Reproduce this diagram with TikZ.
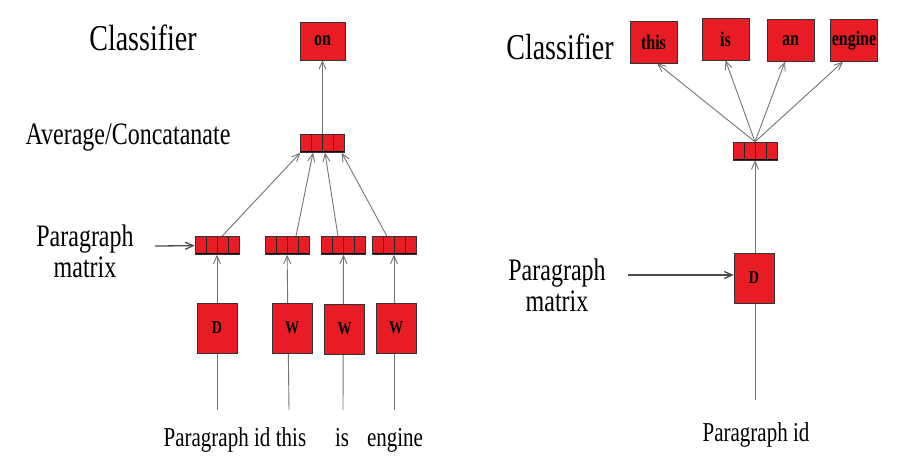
\documentclass[tikz,border=0pt]{standalone}
\usepackage{fontspec}
\setmainfont{Liberation Serif}
\usetikzlibrary{arrows.meta}
\pgfdeclarelayer{bg}
\pgfsetlayers{bg,main}
\definecolor{boxred}{RGB}{232,28,36}
\newcommand{\tallt}[1]{\scalebox{1}[1.3]{#1}}

\begin{document}
\begin{tikzpicture}
  [x=1pt,y=-1pt, every node/.style={inner sep=0pt}, >={Straight Barb[length=8pt,width=7pt]},
   wordbox/.style={rectangle,draw=black!80,fill=boxred,minimum width=40pt,minimum height=50pt,font=\bfseries\fontsize{14}{14}\selectfont},
   outbox/.style={rectangle,draw=black!80,fill=boxred,minimum width=47pt,minimum height=42pt,font=\bfseries\fontsize{16}{16}\selectfont},
   vecbox/.style={rectangle,draw=black!80,fill=boxred,minimum width=44pt,minimum height=18pt,
     path picture={
       \foreach \k in {11pt,22pt,33pt}
         \draw[black!85,line width=0.8pt] ([xshift=\k]path picture bounding box.south west) -- ([xshift=\k]path picture bounding box.north west);
       \draw[black,line width=3pt] (path picture bounding box.south west) -- (path picture bounding box.south east);
     }},
   txtbig/.style={font=\fontsize{28}{34}\selectfont},
   txtmid/.style={font=\fontsize{24}{31}\selectfont},
   txtsmall/.style={font=\fontsize{21}{25}\selectfont},
   flow/.style={->,draw=black!55,line width=0.9pt},
   feed/.style={->,draw=black!70,line width=1.3pt}]

  \useasboundingbox (0,0) rectangle (899,466);

  % left: paragraph vector, distributed memory
  \node[txtbig,anchor=base] (clsL) at (143,50) {\tallt{Classifier}};
  \node[outbox,minimum width=45pt,minimum height=38pt] (on) at (322.5,41) {\tallt{on}};
  \node[txtmid,anchor=base] (avglbl) at (128,144) {\tallt{Average/Concatanate}};
  \node[vecbox] (avg) at (322.5,143.5) {};
  \node[txtmid,align=center] (pmL) at (85,251) {\tallt{Paragraph}\\\tallt{matrix}};

  \node[vecbox] (pv1) at (217,245.5) {};
  \node[vecbox] (pv2) at (287,245.5) {};
  \node[vecbox] (pv3) at (343.5,245.5) {};
  \node[vecbox] (pv4) at (394,245.5) {};

  \node[wordbox] (d1) at (217,328) {\tallt{D}};
  \node[wordbox] (w1) at (292,328) {\tallt{W}};
  \node[wordbox] (w2) at (344.5,329) {\tallt{W}};
  \node[wordbox] (w3) at (396,328) {\tallt{W}};

  \node[txtsmall,anchor=base] (id1) at (217,446) {\tallt{Paragraph id}};
  \node[txtsmall,anchor=base] (t1) at (291,446) {\tallt{this}};
  \node[txtsmall,anchor=base] (t2) at (342,446) {\tallt{is}};
  \node[txtsmall,anchor=base] (t3) at (395,446) {\tallt{engine}};

  \coordinate (s1) at (217,410);
  \coordinate (s2) at (289,410);
  \coordinate (s3) at (343,410);
  \coordinate (s4) at (394,410);
  \coordinate (pa1) at (155,246);

  % right: paragraph vector, distributed bag of words
  \node[txtbig,anchor=base] (clsR) at (560,59) {\tallt{Classifier}};
  \node[outbox] (o1) at (653.5,42) {\tallt{this}};
  \node[outbox] (o2) at (725.5,39) {\tallt{is}};
  \node[outbox] (o3) at (790.5,40.5) {\tallt{an}};
  \node[outbox] (o4) at (854,40.5) {\tallt{engine}};
  \node[vecbox] (rv) at (755,151) {};
  \node[wordbox] (rd) at (754,278) {\tallt{D}};
  \node[txtmid,align=center] (pmR) at (557,285) {\tallt{Paragraph}\\\tallt{matrix}};
  \node[txtsmall,anchor=base] (idR) at (756,441) {\tallt{Paragraph id}};

  \coordinate (s5) at (755,400);
  \coordinate (pa2) at (628,275);

  \begin{pgfonlayer}{bg}
    \draw[flow] (s1) -- (pv1);
    \draw[flow] (s2) -- (pv2);
    \draw[flow] (s3) -- (pv3);
    \draw[flow] (s4) -- (pv4);
    \draw[flow] ([xshift=5pt]pv1.north) -- (avg.south west);
    \draw[flow] ([xshift=9pt]pv2.north) -- ([xshift=-9.5pt]avg.south);
    \draw[flow] ([xshift=-5.5pt]pv3.north) -- ([xshift=2.5pt]avg.south);
    \draw[flow] ([xshift=-7pt]pv4.north) -- ([xshift=-3pt]avg.south east);
    \draw[flow] (avg) -- (on);
    \draw[feed] (pa1) -- (pv1);

    \draw[flow] (s5) -- (rv);
    \draw[flow] (rv.north) -- ([xshift=3.5pt]o1.south);
    \draw[flow] (rv.north) -- (o2.south);
    \draw[flow] (rv.north) -- ([xshift=-5.5pt]o3.south);
    \draw[flow] (rv.north) -- ([xshift=-11pt]o4.south);
    \draw[feed] (pa2) -- (rd.west |- pa2);
  \end{pgfonlayer}

\end{tikzpicture}
\end{document}
